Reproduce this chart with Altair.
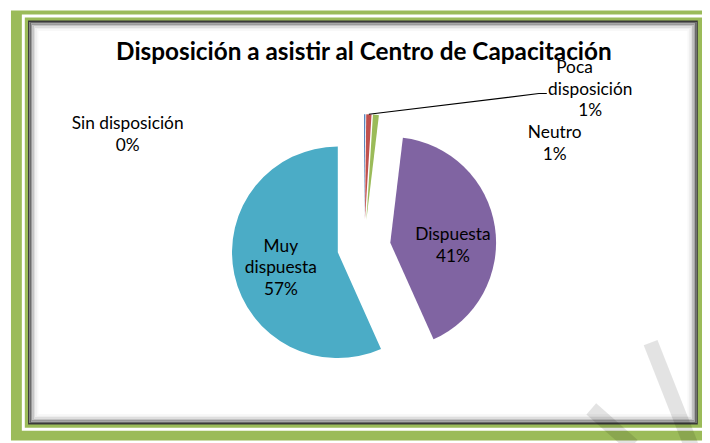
import altair as alt
import pandas as pd

# ---------------- data ----------------
categories = ["Sin disposición", "Poca disposición", "Neutro", "Dispuesta", "Muy dispuesta"]
values = [0.2, 0.8, 0.9, 41.4, 56.7]
pct_labels = ["0%", "1%", "1%", "41%", "57%"]
label_lines = [["Sin disposición"], ["Poca", "disposición"], ["Neutro"], ["Dispuesta"], ["Muy", "dispuesta"]]
title_text = "Disposición a asistir al Centro de Capacitación"

# ---------------- style / layout ----------------
colors = ["#4F81BD", "#C0504D", "#9BBB59", "#8064A2", "#4BACC6"]
W, H = 702, 435
CX, CY, R, EXPLODE = 360, 239, 107, 27
FONT = "Lato"
FONT_SIZE = 17.5
LINE_H = 22
# label anchor per category: (center x, first baseline y) in pixels
label_anchor = [(121, 120), (589, 63), (553, 129), (450, 232), (276, 244)]
# horizontal nudges for single lines: {(category index, line index): dx}
line_dx = {(1, 0): -16}

# ---------------- frame ----------------
def rect(x, y, x2, y2, **kw):
    return alt.Chart(pd.DataFrame({"k": [0]})).mark_rect(**kw).encode(
        x=alt.value(x), x2=alt.value(x2), y=alt.value(y), y2=alt.value(y2))

frame = [
    rect(3, 0, W, H, color="#9BBB59"),
    rect(15.5, 5.5, W + 20, 423.5, fill=None, fillOpacity=0, stroke="white", strokeWidth=3),
    rect(21, 11, 697, 418, fill="white", stroke="#3a3a3a", strokeWidth=1.5),
]
shadow_cols = ["#6a6a6a", "#9a9a9a", "#c2c2c2", "#dedede", "#efefef", "#f8f8f8"]
for i, c in enumerate(shadow_cols):
    d = 1.5 * (i + 1)
    frame.append(rect(21 + d, 11 + d, 697 - d, 418 - d, fill=None, fillOpacity=0,
                      stroke=c, strokeWidth=1.5))

# ---------------- pie ----------------
pie_df = pd.DataFrame({"cat": categories, "value": values, "order": list(range(len(values)))})
pie = (
    alt.Chart(pie_df)
    .transform_joinaggregate(total="sum(value)")
    .transform_window(cum="sum(value)", sort=[alt.SortField("order")], frame=[None, 0])
    .transform_calculate(
        a1="2*PI*datum.cum/datum.total",
        a0="2*PI*(datum.cum-datum.value)/datum.total",
    )
    .transform_calculate(mid="(datum.a0+datum.a1)/2")
    .transform_calculate(
        px=f"{CX}+{EXPLODE}*sin(datum.mid)",
        py=f"{CY}-{EXPLODE}*cos(datum.mid)",
    )
    .mark_arc(outerRadius=R)
    .encode(
        theta=alt.Theta("a0:Q", scale=None),
        theta2="a1:Q",
        x=alt.X("px:Q", scale=None),
        y=alt.Y("py:Q", scale=None),
        color=alt.Color("cat:N", scale=alt.Scale(domain=categories, range=colors), legend=None),
    )
)

# ---------------- leader line for "Poca disposición" ----------------
leader_df = pd.DataFrame({"x": [365, 537, 545], "y": [105, 84, 84], "o": [0, 1, 2]})
leader = alt.Chart(leader_df).mark_line(color="black", strokeWidth=1.2).encode(
    x=alt.X("x:Q", scale=None), y=alt.Y("y:Q", scale=None), order="o:Q")

# ---------------- labels ----------------
rows = []
for ci, (lines, pct, (lx, ly)) in enumerate(zip(label_lines, pct_labels, label_anchor)):
    for j, t in enumerate(lines + [pct]):
        rows.append({"t": t, "x": lx + line_dx.get((ci, j), 0), "y": ly + j * LINE_H})
lab_df = pd.DataFrame(rows)
labels = alt.Chart(lab_df).mark_text(font=FONT, fontSize=FONT_SIZE, align="center",
                                     baseline="alphabetic", color="black").encode(
    x=alt.X("x:Q", scale=None), y=alt.Y("y:Q", scale=None), text="t:N")

title = alt.Chart(pd.DataFrame({"t": [title_text]})).mark_text(
    font=FONT, fontSize=24.6, fontWeight="bold", align="center", baseline="alphabetic",
    color="black").encode(x=alt.value(360), y=alt.value(50), text="t:N")

# ---------------- watermark ----------------
def band(x, y, x2, y2):
    return alt.Chart(pd.DataFrame({"k": [0]})).mark_rule(
        color="black", opacity=0.11, strokeWidth=15, strokeCap="butt").encode(
        x=alt.value(x), y=alt.value(y), x2=alt.value(x2), y2=alt.value(y2))

marks = band(590, 403, 632, 440) + band(650, 336, 691, 440)

chart = alt.layer(*frame, pie, leader, labels, title, marks).properties(
    width=W, height=H, padding=0, autosize=alt.AutoSizeParams(type="none"),
    background="white",
).configure_view(stroke=None)

chart.save("out.html", embed_options={"renderer": "svg", "actions": False})
